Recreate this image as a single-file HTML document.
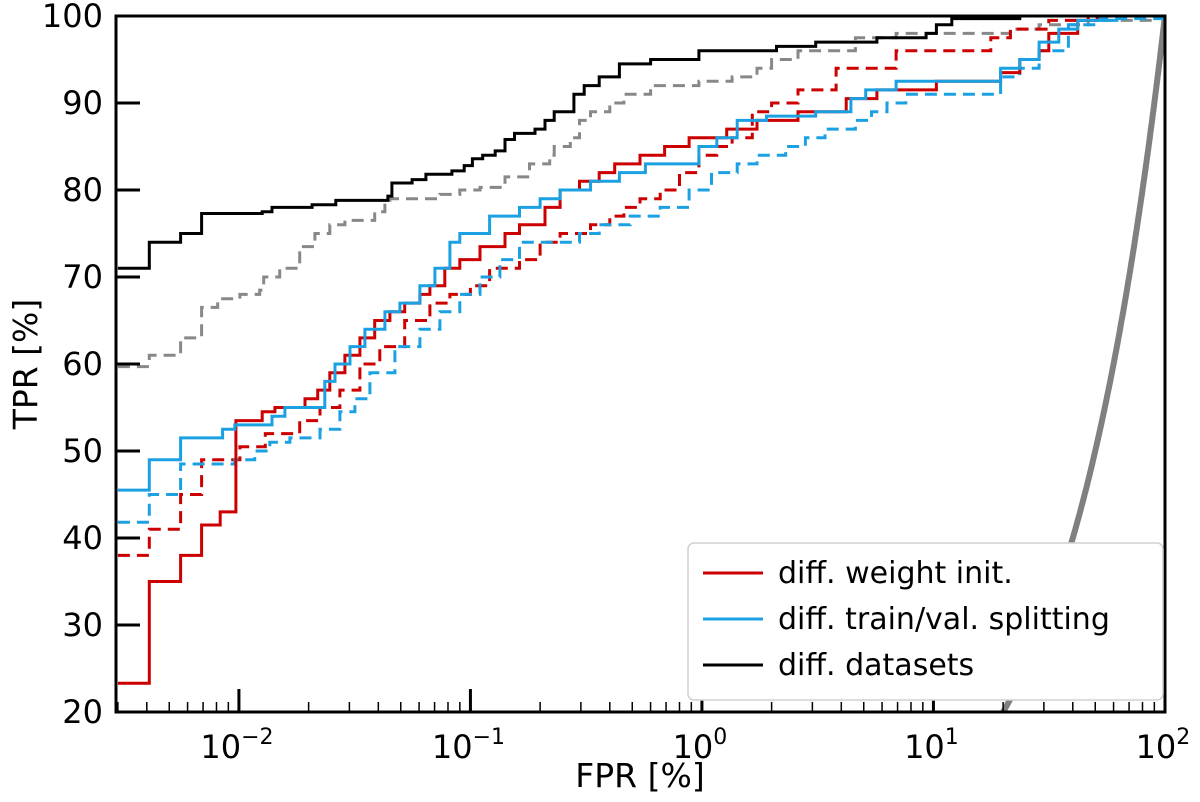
<!DOCTYPE html>
<html><head><meta charset="utf-8"><style>
body{margin:0;background:#fff;}
svg text{font-family:"DejaVu Sans","Liberation Sans",sans-serif;}
</style></head><body>
<svg id="chart" width="1200" height="797" viewBox="0 0 1200 797" xmlns="http://www.w3.org/2000/svg">
<defs><clipPath id="pc"><rect x="116" y="16" width="1049" height="696"/></clipPath></defs>
<g id="series" clip-path="url(#pc)"></g>
<g id="axes"></g>
</svg>
<script>
const xTickExps = [-2, -1, 0, 1, 2];
const yTicks = [20, 30, 40, 50, 60, 70, 80, 90, 100];

const blackFpr = [0.003,0.0041,0.0056,0.0069,0.0126,0.0139,0.0207,0.0262,0.044,0.0458,0.056,0.0642,0.0832,0.094,0.102,0.113,0.128,0.141,0.155,0.19,0.21,0.23,0.28,0.31,0.36,0.44,0.6,0.97,2.1,3.1,5.7,9.3,10.3,12,23.6];
const blackTpr = [71,74,75,77.3,77.5,78,78.3,78.8,79.3,80.8,81.2,81.8,82.2,82.8,83.6,84,84.5,85.8,86.5,87,88,89,91,92,93,94.5,95,96,96.5,97,97.5,98,99,99.7,100];

const grayFpr = [0.003,0.0041,0.0056,0.0069,0.0081,0.0101,0.0123,0.0128,0.015,0.0183,0.0213,0.0247,0.0287,0.0386,0.0427,0.0449,0.0738,0.09,0.11,0.141,0.18,0.22,0.23,0.27,0.296,0.33,0.4,0.46,0.6,0.97,1.35,1.73,2.0,2.6,4.6,6.9,21.5,28.6,46.6,92];
const grayTpr = [59.7,61,63,66.5,67.5,68,68.5,70,71,73.5,75,76,76.5,77.5,78.5,79,79.5,80,80.3,81.5,83,84,85,86,88,89,90,91,92,92.5,93,94,95,96,97.5,98,98.5,99,99.5,100];

const redFpr = [0.003,0.0041,0.0056,0.0069,0.0083,0.0097,0.0126,0.0143,0.0193,0.0219,0.0247,0.0287,0.0333,0.0386,0.0449,0.052,0.0605,0.0668,0.0775,0.09,0.11,0.141,0.163,0.21,0.244,0.296,0.36,0.42,0.54,0.69,0.88,1.28,1.73,2.6,4.2,5.7,10.3,19.5,23.6,28.6,31.5,42,51];
const redTpr = [23.3,35,38,41.5,43,53.5,54.5,55,56,57,59,61,63,65,66,67,68,69,71,72,73.5,75,76,78,80,81,82,83,84,85,86,87,88,89,90.5,91.5,92.5,93.5,95,96,98,99.5,100];

const redDashFpr = [0.003,0.0041,0.0056,0.0069,0.0101,0.013,0.0183,0.0224,0.0273,0.0333,0.0406,0.052,0.0668,0.0815,0.1,0.121,0.163,0.2,0.244,0.33,0.4,0.46,0.54,0.66,0.8,0.97,1.16,1.35,1.65,2.0,2.6,3.8,6.9,17.7,21.5,31.5,46.6];
const redDashTpr = [38,41,45,49,50.5,52,53.5,55,57,60,62,65,67,68,69,71,72,74,75,76,77,78,79,80,82,84,85,86,89,90,91.5,94,96,97.5,98.5,99.5,100];

const blueFpr = [0.003,0.0041,0.0056,0.0085,0.0096,0.0139,0.0158,0.0235,0.026,0.0302,0.035,0.0427,0.0496,0.0605,0.0702,0.0815,0.09,0.121,0.163,0.2,0.244,0.33,0.44,0.57,0.97,1.16,1.42,1.9,3.1,4.4,5.1,6.9,19.5,23.6,28.6,34.8,42,62];
const blueTpr = [45.5,49,51.5,52.5,53,54,55,58,60,62,64,66,67,69,71,74,75,77,78,79,80,81,82,83,85,86,88,88.5,89,90.5,91.5,92.5,94,95,97,98.5,99.5,100];

const blueDashFpr = [0.003,0.0041,0.0056,0.0096,0.0117,0.0136,0.0166,0.0224,0.0273,0.0317,0.0368,0.0472,0.0605,0.0738,0.09,0.11,0.134,0.163,0.296,0.36,0.49,0.66,0.88,1.1,1.42,1.73,2.3,2.8,3.4,4.6,5.4,6.3,7.6,19.5,23.6,28.6,38.3,51,100];
const blueDashTpr = [41.8,45,48.5,49,50,51,51.5,52.5,54.5,56,59,62,64,66,68,70,72,74,75,76,77,78,80,82,83,84,85,86,87,88,89,90,91,93,94,96,99,99.7,100];

const X0=116, DEC=231.5, XMIN_EXP=-2.531, Y0=712, YT=16;
function xs(f){ return X0 + (Math.log10(f) - XMIN_EXP) * DEC; }
function ys(t){ return Y0 - (t-20)/80*(Y0-YT); }
const NS='http://www.w3.org/2000/svg';
const series=document.getElementById('series'), axes=document.getElementById('axes');
function mk(tag, attrs, parent){ const e=document.createElementNS(NS,tag); for(const k in attrs) e.setAttribute(k,attrs[k]); parent.appendChild(e); return e; }

function stepPath(fx, ty){
  let d='M'+xs(fx[0]).toFixed(1)+' '+ys(ty[0]).toFixed(1);
  for(let i=1;i<fx.length;i++){ d+=' H'+xs(fx[i]).toFixed(1)+' V'+ys(ty[i]).toFixed(1); }
  d+=' H'+xs(100).toFixed(1);
  return d;
}

let dd=''; for(let t=20;t<=100;t+=0.5){ dd+=(dd?' L':'M')+xs(t).toFixed(1)+' '+ys(t).toFixed(1); }
const rnd=mk('path',{d:dd,fill:'none',stroke:'#808080','stroke-width':6},series);



const defs=[
 [grayFpr,grayTpr,'#888888','12 7','datasets-dashed-line'],
 [redDashFpr,redDashTpr,'#cc0000','12 7','weight-init-dashed-line'],
 [blueDashFpr,blueDashTpr,'#1ba1e2','12 7','splitting-dashed-line'],
 [redFpr,redTpr,'#cc0000','','weight-init-line'],
 [blueFpr,blueTpr,'#1ba1e2','','splitting-line'],
 [blackFpr,blackTpr,'#000000','','datasets-line']
];
for(const s of defs){
  const p=mk('path',{d:stepPath(s[0],s[1]),fill:'none',stroke:s[2],'stroke-width':3,'stroke-dasharray':s[3]||'none'},series);
  
  
}

const fr=mk('rect',{x:116,y:16,width:1049,height:696,fill:'none',stroke:'#000','stroke-width':3},axes);



for(const t of yTicks){
  const y=ys(t);
  mk('line',{x1:116,x2:140,y1:y,y2:y,stroke:'#000','stroke-width':3},axes);
  const tx=mk('text',{x:103,y:y+11,'text-anchor':'end','font-size':32,fill:'#000'},axes);
  tx.textContent=t;
  
  
}
for(const e of xTickExps){
  const x=xs(Math.pow(10,e));
  if(e<2) mk('line',{x1:x,x2:x,y1:712,y2:689,stroke:'#000','stroke-width':3},axes);
  for(let m=2;m<=9;m++){
    const xm=xs(m*Math.pow(10,e-1));
    if(xm>117) mk('line',{x1:xm,x2:xm,y1:712,y2:702,stroke:'#000','stroke-width':1.5},axes);
  }
  const tx=mk('text',{x:x-2,y:758,'text-anchor':'middle','font-size':32,fill:'#000'},axes);
  tx.innerHTML='10<tspan dy="-14" font-size="22">'+(e<0?'\u2212'+Math.abs(e):e)+'</tspan>';
  
  
}
</script>
<svg style="position:absolute;left:0;top:0" width="1200" height="797">
<text x="640" y="787" text-anchor="middle" font-size="33" fill="#000">FPR [%]</text>
<text x="0" y="0" transform="translate(37,364) rotate(-90)" text-anchor="middle" font-size="33" fill="#000">TPR [%]</text>
<g>
<rect x="688" y="543" width="475" height="157" rx="6" fill="#fff" stroke="#d0d0d0" stroke-width="1.5"/>
<line x1="703" y1="573" x2="763" y2="573" stroke="#cc0000" stroke-width="3"/>
<text x="778" y="583" font-size="30" fill="#000">diff. weight init.</text>
<line x1="703" y1="619" x2="763" y2="619" stroke="#1ba1e2" stroke-width="3"/>
<text x="778" y="629" font-size="30" fill="#000">diff. train/val. splitting</text>
<line x1="703" y1="665" x2="763" y2="665" stroke="#000" stroke-width="3"/>
<text x="778" y="675" font-size="30" fill="#000">diff. datasets</text>
</g>
</svg>
</body></html>
